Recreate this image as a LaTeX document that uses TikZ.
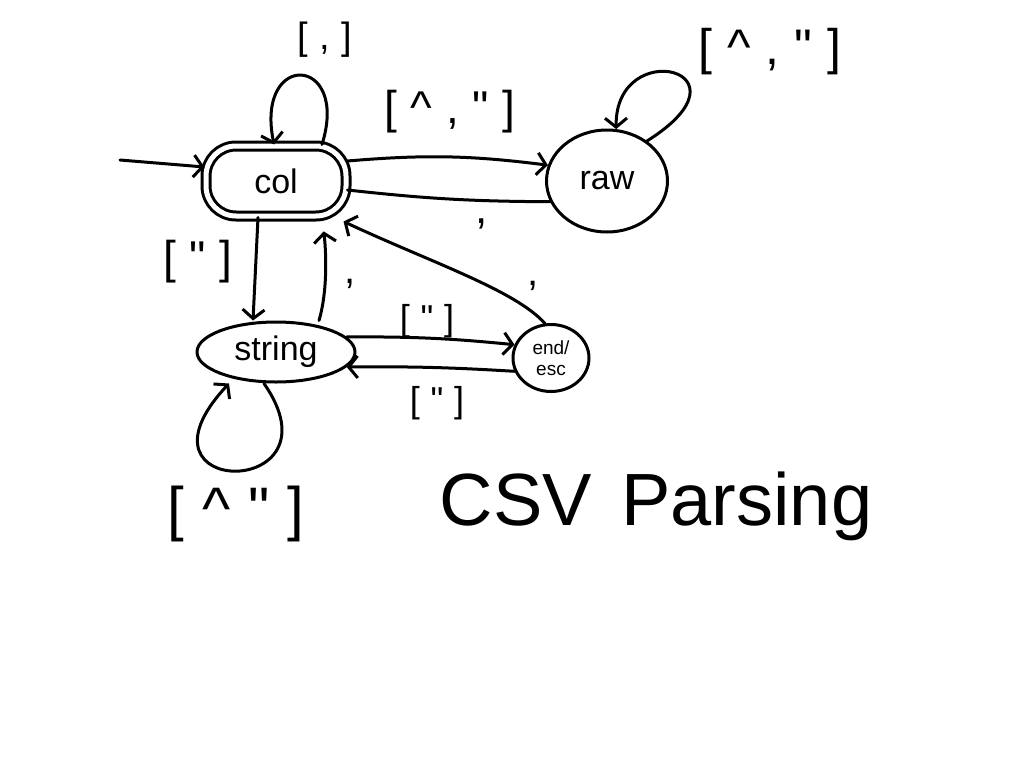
\documentclass[tikz,border=0pt]{standalone}
\usepackage{fontspec}
\setmainfont{Liberation Sans}
\newfontfamily\labfont[LetterSpace=30]{Liberation Sans}
\usetikzlibrary{arrows.meta,shapes.geometric}
\begin{document}
\begin{tikzpicture}[x=1pt,y=-1pt,line width=3pt,line cap=round,line join=round,
  tr/.style={-{Straight Barb[length=9pt,width=22pt,line width=3pt]}},
  statebox/.style={draw,inner sep=0pt,font=\fontsize{34}{34}\selectfont},
  lab/.style={font=\labfont\fontsize{#1}{#1}\selectfont,inner sep=0pt},
  lab/.default=32]
\useasboundingbox (0,0) rectangle (1024,768);
% states
\node[statebox,rectangle,rounded corners=30pt,double,double distance=5pt,
      minimum width=140pt,minimum height=70pt] (col) at (276,181) {col};
\node[statebox,ellipse,minimum width=121pt,minimum height=102pt] (raw) at (607,181) {raw};
\node[statebox,ellipse,minimum width=158pt,minimum height=60pt] (string) at (276,352) {string};
\node[statebox,ellipse,minimum width=76pt,minimum height=67pt,align=center,
      font=\fontsize{19}{21}\selectfont] (esc) at (551,358) {end/\\esc};
% start
\coordinate (start) at (120,160);
\draw[tr] (start) -- ([yshift=14pt]col.west);
% col loop
\draw[tr] ([xshift=46pt]col.north) .. controls (350,55) and (255,50) .. ([xshift=-2pt]col.north);
\node[lab=38] (l1) at (325,40) {[,]};
% col -> raw
\draw[tr] ([yshift=20pt]col.east) to[bend left=6] (raw.165);
\node[lab=46] (l2) at (450,112) {[\textasciicircum,"]};
% raw -> col
\draw (raw.200) to[bend left=3] ([yshift=-9pt]col.east);
\node[lab=44] (l3) at (482,224) {,};
% raw loop
\draw[tr] (raw.45) .. controls (760,70) and (615,35) .. (raw.80);
\node[lab=50] (l4) at (770,52) {[\textasciicircum,"]};
% col -> string
\draw[tr] ([xshift=-18pt]col.south) -- ([xshift=-23pt]string.north);
\node[lab=46] (l5) at (198,262) {["]};
% string -> col
\draw[tr,shorten >=14pt] ([xshift=43pt]string.north) .. controls (328,290) and (326,250) .. ([xshift=46pt]col.south);
\node[lab=40] (l6) at (350,284) {,};
% esc -> col
\draw[tr] (esc.100) .. controls (515,290) and (430,262) .. ([xshift=-4pt,yshift=-4pt]col.south east);
\node[lab=40] (l7) at (533,286) {,};
% string <-> esc
\draw[tr] (string.12) to[bend left=3] (esc.160);
\node[lab=36] (l8) at (427,321) {["]};
\draw[tr] (esc.200) to[bend right=2] (string.-12);
\node[lab=36] (l9) at (437,403) {["]};
% string loop
\draw[tr] ([xshift=-12pt]string.south) .. controls (345,500) and (120,500) .. ([xshift=-47pt]string.south);
\node[lab=60] (l10) at (236,514) {[\textasciicircum"]};
% title
\node[inner sep=0pt,font=\fontsize{74}{74}\selectfont] (title) at (656,506) {CSV\hspace{0.4em}Parsing};
\end{tikzpicture}
\end{document}
